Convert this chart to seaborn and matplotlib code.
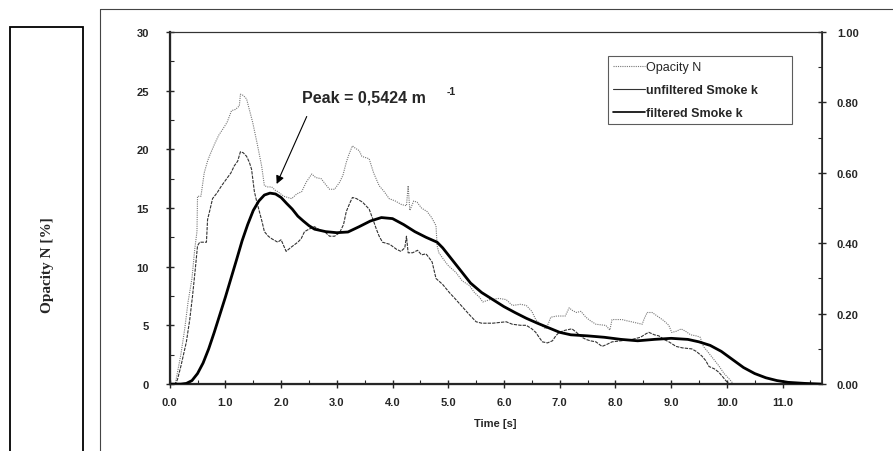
import matplotlib
matplotlib.use("Agg")
import matplotlib.pyplot as plt
from matplotlib.lines import Line2D
from matplotlib.patches import Rectangle
from matplotlib.ticker import MultipleLocator, FormatStrFormatter
import seaborn as sns
import pandas as pd

# --- data ----------------------------------------------------------------
# Opacity N [%] (left axis)
opacity_t = [0.0, 0.1, 0.14, 0.2, 0.27, 0.33, 0.4, 0.45, 0.49, 0.5, 0.56, 0.57, 0.62, 0.68, 0.72,
             0.81, 0.88, 0.95, 1.03, 1.11, 1.18, 1.25, 1.27, 1.32, 1.38, 1.44, 1.49, 1.57, 1.65, 1.70,
             1.76, 1.83, 1.9, 1.94, 2.05, 2.19, 2.28, 2.37, 2.45, 2.55, 2.62, 2.72, 2.8, 2.87, 2.96,
             3.05, 3.11, 3.17, 3.22, 3.28, 3.33, 3.4, 3.45, 3.58, 3.66, 3.76, 3.85, 3.94, 4.05, 4.16,
             4.25, 4.28, 4.31, 4.38, 4.44, 4.52, 4.62, 4.7, 4.78, 4.8, 4.83, 4.95, 5.0, 5.14, 5.25,
             5.38, 5.47, 5.56, 5.62, 5.75, 5.91, 6.04, 6.15, 6.3, 6.4, 6.5, 6.57, 6.65, 6.75, 6.8,
             6.84, 6.95, 7.1, 7.17, 7.22, 7.3, 7.38, 7.47, 7.55, 7.65, 7.83, 7.9, 7.94, 8.12, 8.2,
             8.3, 8.48, 8.52, 8.57, 8.66, 8.72, 8.78, 8.87, 8.96, 9.01, 9.09, 9.18, 9.26, 9.35, 9.46,
             9.52, 9.58, 9.65, 9.75, 9.85, 9.95, 10.05, 10.12]
opacity_n = [0.0, 0.0, 1.0, 2.5, 4.7, 7.0, 9.0, 11.5, 13.0, 16.0, 16.0, 16.3, 18.0, 19.0, 19.5,
             20.5, 21.2, 21.7, 22.3, 23.3, 23.4, 23.7, 24.7, 24.6, 24.3, 23.2, 22.3, 20.5, 18.6, 16.9,
             16.8, 16.8, 16.5, 16.4, 16.0, 15.8, 16.2, 16.4, 17.2, 17.9, 17.6, 17.5, 17.0, 16.6, 16.6,
             17.2, 17.8, 18.9, 19.6, 20.3, 20.1, 19.9, 19.4, 19.2, 18.0, 16.9, 16.4, 15.8, 15.6, 15.3,
             15.2, 16.9, 14.8, 15.6, 15.5, 15.0, 14.7, 14.2, 13.5, 11.8, 11.2, 10.4, 10.1, 9.5, 8.8,
             8.4, 7.8, 7.4, 7.0, 7.2, 7.3, 7.2, 6.7, 6.8, 6.7, 6.2, 5.5, 5.1, 4.7, 5.2,
             5.7, 5.8, 5.8, 6.5, 6.3, 6.1, 6.2, 5.7, 5.4, 5.1, 5.0, 4.6, 5.5, 5.5, 5.4,
             5.3, 5.1, 5.6, 6.1, 6.1, 5.9, 5.7, 5.4, 5.0, 4.4, 4.5, 4.7, 4.5, 4.2, 4.1,
             4.0, 3.2, 2.8, 2.2, 1.6, 0.9, 0.4, 0.0]

# unfiltered smoke k [1/m] (right axis)
unfilt_t = [0.0, 0.1, 0.14, 0.2, 0.3, 0.36, 0.41, 0.46, 0.5, 0.54, 0.66, 0.68, 0.72, 0.77, 0.85,
            0.93, 1.04, 1.1, 1.16, 1.22, 1.27, 1.32, 1.38, 1.43, 1.47, 1.52, 1.56, 1.61, 1.66, 1.7,
            1.77, 1.83, 1.94, 2.0, 2.09, 2.19, 2.3, 2.36, 2.42, 2.5, 2.6, 2.7, 2.78, 2.87, 2.96,
            3.05, 3.12, 3.17, 3.23, 3.28, 3.35, 3.46, 3.52, 3.58, 3.65, 3.71, 3.76, 3.82, 3.95, 4.07,
            4.15, 4.22, 4.25, 4.28, 4.36, 4.45, 4.52, 4.6, 4.65, 4.71, 4.78, 4.9, 5.02, 5.12, 5.25,
            5.38, 5.5, 5.6, 5.8, 6.04, 6.15, 6.3, 6.4, 6.5, 6.57, 6.63, 6.69, 6.78, 6.87, 6.93,
            6.99, 7.1, 7.22, 7.3, 7.4, 7.47, 7.55, 7.65, 7.76, 7.85, 7.94, 8.1, 8.3, 8.45, 8.55,
            8.6, 8.7, 8.78, 8.87, 8.96, 9.09, 9.2, 9.37, 9.45, 9.55, 9.62, 9.68, 9.78, 9.86, 9.93,
            9.98, 10.05]
unfilt_k = [0.0, 0.0, 0.013, 0.05, 0.12, 0.183, 0.25, 0.327, 0.393, 0.403, 0.403, 0.467, 0.493, 0.527, 0.543,
            0.563, 0.587, 0.6, 0.62, 0.633, 0.66, 0.657, 0.647, 0.63, 0.61, 0.547, 0.52, 0.49, 0.46, 0.433,
            0.42, 0.413, 0.403, 0.41, 0.377, 0.39, 0.403, 0.413, 0.433, 0.44, 0.447, 0.437, 0.433, 0.42, 0.42,
            0.43, 0.453, 0.49, 0.513, 0.53, 0.527, 0.517, 0.507, 0.497, 0.467, 0.44, 0.42, 0.403, 0.397, 0.383,
            0.377, 0.387, 0.42, 0.373, 0.373, 0.38, 0.367, 0.37, 0.36, 0.347, 0.30, 0.283, 0.26, 0.243, 0.22,
            0.197, 0.177, 0.173, 0.173, 0.177, 0.17, 0.167, 0.167, 0.157, 0.147, 0.133, 0.12, 0.117, 0.123, 0.137,
            0.147, 0.153, 0.157, 0.147, 0.133, 0.127, 0.123, 0.12, 0.107, 0.113, 0.12, 0.123, 0.127, 0.133, 0.143,
            0.147, 0.14, 0.137, 0.127, 0.12, 0.107, 0.103, 0.1, 0.093, 0.08, 0.067, 0.05, 0.043, 0.033, 0.02,
            0.01, 0.0]

# filtered smoke k [1/m] (right axis)
filt_t = [0.0, 0.2, 0.3, 0.4, 0.5, 0.6, 0.7, 0.8, 0.9, 1.0, 1.1, 1.2, 1.3, 1.4, 1.5, 1.6, 1.7, 1.8,
          1.9, 2.0, 2.1, 2.2, 2.3, 2.4, 2.5, 2.6, 2.8, 3.0, 3.2, 3.4, 3.6, 3.8, 4.0, 4.2, 4.4, 4.6,
          4.8, 4.9, 5.0, 5.2, 5.4, 5.6, 5.8, 6.0, 6.2, 6.4, 6.6, 6.8, 7.0, 7.2, 7.5, 7.8, 8.1, 8.4,
          8.7, 9.0, 9.3, 9.5, 9.7, 9.9, 10.1, 10.3, 10.5, 10.7, 10.9, 11.1, 11.4, 11.7]
filt_k = [0.0, 0.0, 0.002, 0.010, 0.030, 0.060, 0.100, 0.147, 0.197, 0.247, 0.300, 0.353, 0.407, 0.453,
          0.493, 0.520, 0.537, 0.5424, 0.540, 0.530, 0.513, 0.497, 0.477, 0.463, 0.450, 0.440, 0.433,
          0.430, 0.432, 0.447, 0.463, 0.473, 0.470, 0.453, 0.433, 0.417, 0.403, 0.387, 0.367, 0.327,
          0.287, 0.260, 0.240, 0.220, 0.203, 0.187, 0.173, 0.160, 0.147, 0.140, 0.137, 0.133, 0.127,
          0.123, 0.127, 0.130, 0.127, 0.120, 0.110, 0.093, 0.070, 0.047, 0.030, 0.018, 0.010, 0.005,
          0.002, 0.0]

peak_label = "Peak = 0,5424 m"
legend_labels = ["Opacity N", "unfiltered Smoke k", "filtered Smoke k"]

df_op = pd.DataFrame({"t": opacity_t, "v": opacity_n})
df_un = pd.DataFrame({"t": unfilt_t, "v": unfilt_k})
df_fi = pd.DataFrame({"t": filt_t, "v": filt_k})

# --- plot ------------------------------------------------------------------
sns.set_style("white")
plt.rcParams["font.family"] = ["Liberation Sans", "DejaVu Sans"]

fig = plt.figure(figsize=(8.93, 4.52), dpi=100)
ax = fig.add_axes([0.190, 0.148, 0.730, 0.779])
ax2 = ax.twinx()

sns.lineplot(data=df_op, x="t", y="v", ax=ax, sort=False, estimator=None,
             color="#777777", lw=0.8, linestyle=(0, (1, 1)))
sns.lineplot(data=df_un, x="t", y="v", ax=ax2, sort=False, estimator=None,
             color="#333333", lw=0.8, linestyle=(0, (3, 1)))
sns.lineplot(data=df_fi, x="t", y="v", ax=ax2, sort=False, estimator=None,
             color="black", lw=2.0)

ax.set_xlim(0, 11.7)
ax.set_ylim(0, 30)
ax2.set_ylim(0, 1.0)

ax.xaxis.set_major_locator(MultipleLocator(1))
ax.xaxis.set_minor_locator(MultipleLocator(0.5))
ax.xaxis.set_major_formatter(FormatStrFormatter("%.1f"))
ax.yaxis.set_major_locator(MultipleLocator(5))
ax.yaxis.set_minor_locator(MultipleLocator(2.5))
ax2.yaxis.set_major_locator(MultipleLocator(0.2))
ax2.yaxis.set_minor_locator(MultipleLocator(0.1))
ax2.yaxis.set_major_formatter(FormatStrFormatter("%.2f"))

for a in (ax, ax2):
    a.tick_params(which="major", direction="inout", length=6, width=1, labelsize=8)
    a.tick_params(which="minor", direction="in", length=3, width=0.8)
    for lab in a.get_xticklabels() + a.get_yticklabels():
        lab.set_fontweight("bold")
ax.tick_params(axis="x", which="both", bottom=True, top=False, pad=6)
ax.tick_params(axis="y", which="both", left=True, right=False, pad=12)
ax2.tick_params(axis="y", which="both", right=True, left=False, pad=8)

for s in ("left", "bottom"):
    ax.spines[s].set_linewidth(1.6)
ax.spines["top"].set_linewidth(0.8)
ax2.spines["right"].set_linewidth(1.2)
for a in (ax, ax2):
    a.spines["top"].set_color("#333333")
    a.set_xlabel("")
    a.set_ylabel("")

ax.set_xlabel("Time [s]", fontsize=8, fontweight="bold", labelpad=8)

# peak annotation
ax.text(2.37, 24.5, peak_label, fontsize=11.5, fontweight="bold", va="center", ha="left")
ax.text(4.97, 25.0, "-1", fontsize=7.5, fontweight="bold", va="center", ha="left")
ax.annotate("", xy=(1.92, 17.05), xytext=(2.46, 22.8),
            arrowprops=dict(arrowstyle="-|>", color="black", lw=0.8,
                            shrinkA=0, shrinkB=0, mutation_scale=12))

# legend
handles = [Line2D([], [], color="#777777", lw=0.8, linestyle=(0, (1, 1))),
           Line2D([], [], color="#333333", lw=0.8),
           Line2D([], [], color="black", lw=1.2)]
leg = ax.legend(handles, legend_labels, loc="upper left",
                bbox_to_anchor=(0.672, 0.733, 0.282, 0.199), mode="expand",
                frameon=True, fancybox=False, edgecolor="#333333", fontsize=9,
                handlelength=2.6, handletextpad=0.1, labelspacing=0.9, borderpad=0.4,
                borderaxespad=0)
leg.get_frame().set_linewidth(0.8)
for i, txt in enumerate(leg.get_texts()):
    if i > 0:
        txt.set_fontweight("bold")

# outer frames of the scanned page
fig.patches.append(Rectangle((10 / 893, -0.05), 73 / 893, (452 - 28) / 452 + 0.05,
                             transform=fig.transFigure, fill=False, lw=1.3,
                             edgecolor="black", zorder=0))
fig.add_artist(Line2D([100 / 893, 1.0], [1 - 10 / 452, 1 - 10 / 452],
                      transform=fig.transFigure, color="#444444", lw=0.8))
fig.add_artist(Line2D([100 / 893, 100 / 893], [0, 1 - 10 / 452],
                      transform=fig.transFigure, color="#444444", lw=0.8))

fig.text(47 / 893, 1 - 265 / 452, "Opacity N [%]", rotation=90, ha="center", va="center",
         fontsize=11, fontweight="bold", family=["Liberation Serif", "DejaVu Serif"])

fig.savefig("out.png", dpi=100)
